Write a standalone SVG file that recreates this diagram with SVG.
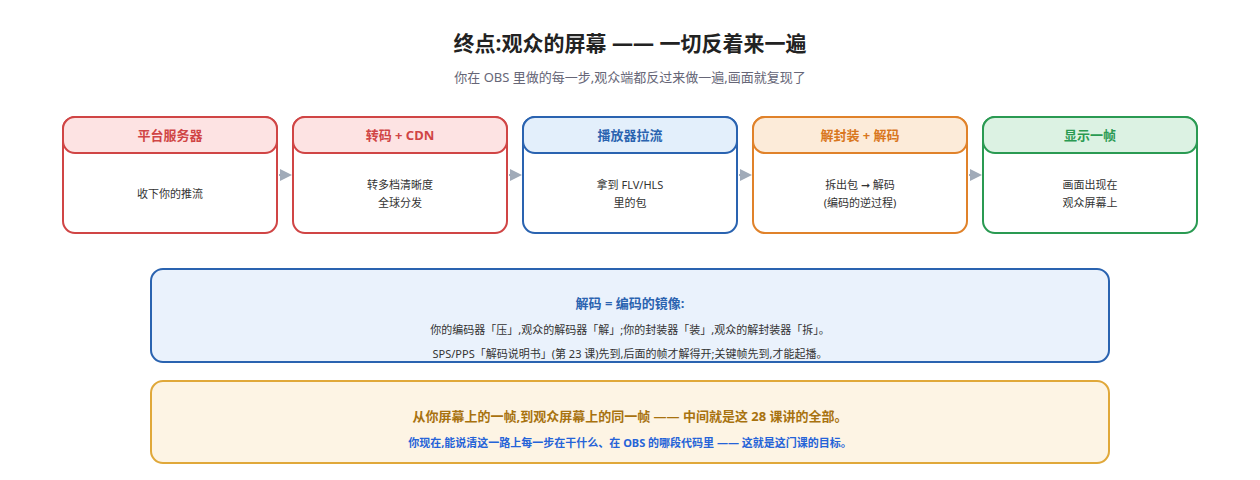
<svg xmlns="http://www.w3.org/2000/svg" width="1260" height="480" viewBox="0 0 1260 480">
<style>
text{font-family:"Noto Sans","Noto Sans CJK SC",sans-serif;text-anchor:middle}
.t{font-size:13px;font-weight:bold}
.b{font-size:11px;fill:#333}
.red rect{stroke:#d04545}.red .h{fill:#fde3e3}.red .t{fill:#d04545}
.blu rect{stroke:#2a63b0}.blu .h{fill:#e3effb}.blu .t{fill:#2a63b0}
.org rect{stroke:#e0822a}.org .h{fill:#fcebd9}.org .t{fill:#d9771e}
.grn rect{stroke:#2a9a52}.grn .h{fill:#dcf2e3}.grn .t{fill:#2a9a52}
rect{stroke-width:2}
</style>
<defs><marker id="a" markerWidth="6" markerHeight="6" refX="5" refY="3" orient="auto"><path d="M0,0L6,3L0,6z" fill="#a0aab8"/></marker></defs>
<rect width="1260" height="480" fill="#fff" stroke="none"/>
<text x="630" y="51" style="font-size:21px;font-weight:bold;fill:#222">终点:观众的屏幕 —— 一切反着来一遍</text>
<text x="630" y="82" style="font-size:13px;fill:#667">你在 OBS 里做的每一步,观众端都反过来做一遍,画面就复现了</text>
<g id="n1" class="red"><rect x="63" y="117" width="214" height="116" rx="12" fill="#fff"/><rect class="h" x="63" y="117" width="214" height="36" rx="12"/><text class="t" x="170" y="140">平台服务器</text><text class="b" x="170" y="198">收下你的推流</text></g>
<g id="n2" class="red"><rect x="293" y="117" width="214" height="116" rx="12" fill="#fff"/><rect class="h" x="293" y="117" width="214" height="36" rx="12"/><text class="t" x="400" y="140">转码 + CDN</text><text class="b" x="400" y="189">转多档清晰度</text><text class="b" x="400" y="207">全球分发</text></g>
<g id="n3" class="blu"><rect x="523" y="117" width="214" height="116" rx="12" fill="#fff"/><rect class="h" x="523" y="117" width="214" height="36" rx="12"/><text class="t" x="630" y="140">播放器拉流</text><text class="b" x="630" y="189">拿到 FLV/HLS</text><text class="b" x="630" y="207">里的包</text></g>
<g id="n4" class="org"><rect x="753" y="117" width="214" height="116" rx="12" fill="#fff"/><rect class="h" x="753" y="117" width="214" height="36" rx="12"/><text class="t" x="860" y="140">解封装 + 解码</text><text class="b" x="860" y="189">拆出包 ➞ 解码</text><text class="b" x="860" y="207">(编码的逆过程)</text></g>
<g id="n5" class="grn"><rect x="983" y="117" width="214" height="116" rx="12" fill="#fff"/><rect class="h" x="983" y="117" width="214" height="36" rx="12"/><text class="t" x="1090" y="140">显示一帧</text><text class="b" x="1090" y="189">画面出现在</text><text class="b" x="1090" y="207">观众屏幕上</text></g>
<g id="edges" stroke="#a0aab8" stroke-width="2" marker-end="url(#a)">
<line x1="279" y1="175" x2="290" y2="175"/><line x1="509" y1="175" x2="520" y2="175"/><line x1="739" y1="175" x2="750" y2="175"/><line x1="969" y1="175" x2="980" y2="175"/>
</g>
<g id="note1"><rect x="151" y="269" width="958" height="93" rx="12" fill="#eaf2fc" stroke="#2a63b0"/>
<text x="630" y="308" style="font-size:13px;font-weight:bold;fill:#2a63b0">解码 = 编码的镜像:</text>
<text class="b" x="630" y="334">你的编码器「压」,观众的解码器「解」;你的封装器「装」,观众的解封装器「拆」。</text>
<text class="b" x="630" y="358">SPS/PPS「解码说明书」(第 23 课)先到,后面的帧才解得开;关键帧先到,才能起播。</text></g>
<g id="note2"><rect x="151" y="381" width="958" height="82" rx="12" fill="#fdf4e4" stroke="#e0a83a"/>
<text x="630" y="421" style="font-size:13px;font-weight:bold;fill:#a8720f">从你屏幕上的一帧,到观众屏幕上的同一帧 —— 中间就是这 28 课讲的全部。</text>
<text x="630" y="447" style="font-size:11px;font-weight:bold;fill:#2563d8">你现在,能说清这一路上每一步在干什么、在 OBS 的哪段代码里 —— 这就是这门课的目标。</text></g>
</svg>
